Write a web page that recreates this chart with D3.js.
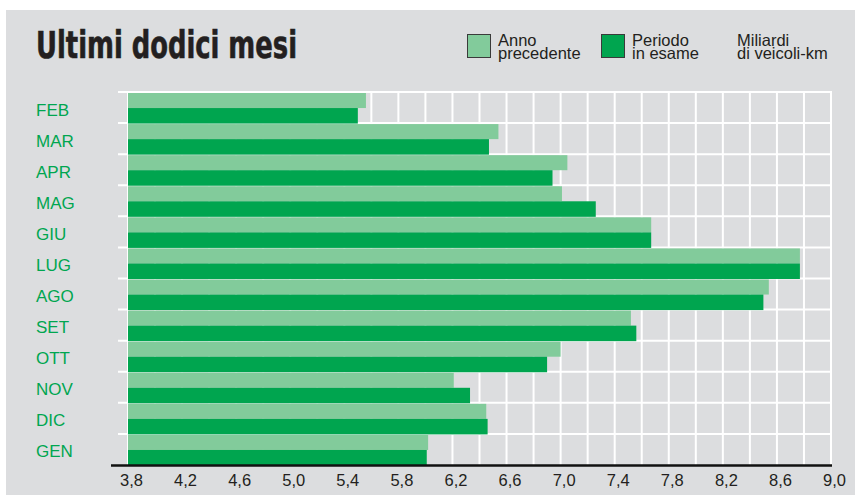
<!DOCTYPE html>
<html>
<head>
<meta charset="utf-8">
<script src="https://cdn.jsdelivr.net/npm/d3@7"></script>
<style>
  body { margin: 0; background: #fff; }
  svg { display: block; font-family: "Liberation Sans", Arial, sans-serif; }
</style>
</head>
<body>
<svg id="chart" width="855" height="497"></svg>
<script>
// months, top to bottom
const months = ['FEB', 'MAR', 'APR', 'MAG', 'GIU', 'LUG', 'AGO', 'SET', 'OTT', 'NOV', 'DIC', 'GEN'];
// miliardi di veicoli-km
const annoPrecedente = [5.56, 6.54, 7.05, 7.01, 7.67, 8.77, 8.54, 7.52, 7.00, 6.21, 6.45, 6.02];
const periodoInEsame = [5.50, 6.47, 6.94, 7.26, 7.67, 8.77, 8.50, 7.56, 6.90, 6.33, 6.46, 6.01];
const tickValues = [3.8, 4.2, 4.6, 5.0, 5.4, 5.8, 6.2, 6.6, 7.0, 7.4, 7.8, 8.2, 8.6, 9.0];
const gridValues = d3.range(0, 27).map(i => +(3.8 + i * 0.2).toFixed(1));

const lightGreen = '#82cb9b';
const darkGreen = '#00a54f';
const labelGreen = '#00a650';

const svg = d3.select('#chart');

// gray panel
svg.append('rect')
    .attr('x', 6).attr('y', 10)
    .attr('width', 849).attr('height', 485)
    .attr('fill', '#dcdddf');

const x = d3.scaleLinear().domain([3.8, 9.0]).range([128, 831]);
const y = d3.scaleBand().domain(months).range([92, 465]);

// grid (white)
const grid = svg.append('g').attr('stroke', '#fff').attr('stroke-width', 2);
grid.selectAll('line.v')
    .data(gridValues)
    .join('line')
    .attr('class', 'v')
    .attr('x1', d => x(d)).attr('x2', d => x(d))
    .attr('y1', 91).attr('y2', 465);
grid.selectAll('line.h')
    .data(months)
    .join('line')
    .attr('class', 'h')
    .attr('x1', 118).attr('x2', x(9.0) + 1)
    .attr('y1', d => y(d)).attr('y2', d => y(d));

// bars
const half = y.bandwidth() / 2;
const rows = svg.append('g').selectAll('g')
    .data(months)
    .join('g')
    .attr('transform', d => `translate(0,${y(d)})`);

rows.append('rect')
    .attr('x', x(3.8))
    .attr('y', 1)
    .attr('width', (d, i) => x(annoPrecedente[i]) - x(3.8))
    .attr('height', half - 0.5)
    .attr('fill', lightGreen);

rows.append('rect')
    .attr('x', x(3.8))
    .attr('y', half + 0.5)
    .attr('width', (d, i) => x(periodoInEsame[i]) - x(3.8))
    .attr('height', half)
    .attr('fill', darkGreen);

// month labels
svg.append('g').selectAll('text')
    .data(months)
    .join('text')
    .attr('x', 36)
    .attr('y', d => y(d) + y.bandwidth() / 2 + 8)
    .attr('fill', labelGreen)
    .attr('font-size', '17px')
    .text(d => d);

// x axis
const axis = svg.append('g')
    .attr('transform', 'translate(0,466)')
    .call(d3.axisBottom(x)
        .tickValues(tickValues)
        .tickSize(0)
        .tickPadding(8)
        .tickFormat(d => d3.format('.1f')(d).replace('.', ',')));
axis.select('.domain').remove();
axis.selectAll('text')
    .attr('font-family', '"Liberation Sans", Arial, sans-serif')
    .attr('font-size', '16.5px')
    .attr('fill', '#231f20')
    .attr('dx', 3);

svg.append('line')
    .attr('x1', 111).attr('x2', x(9.0) + 1)
    .attr('y1', 465.5).attr('y2', 465.5)
    .attr('stroke', '#111').attr('stroke-width', 2.5);

// title
svg.append('text')
    .attr('x', 36).attr('y', 58)
    .attr('font-family', '"Liberation Sans Narrow", "DejaVu Sans Condensed", "Liberation Sans", sans-serif')
    .attr('font-weight', 'bold')
    .attr('font-size', '37px')
    .attr('fill', '#231f20')
    .attr('stroke', '#231f20')
    .attr('stroke-width', 0.6)
    .attr('textLength', 261)
    .attr('lengthAdjust', 'spacingAndGlyphs')
    .text('Ultimi dodici mesi');

// legend
const legend = [
    { x: 467, color: lightGreen, lines: ['Anno', 'precedente'] },
    { x: 601, color: darkGreen, lines: ['Periodo', 'in esame'] }
];
const lg = svg.append('g').selectAll('g')
    .data(legend)
    .join('g');
lg.append('rect')
    .attr('x', d => d.x + 0.5).attr('y', 34.5)
    .attr('width', 23).attr('height', 23)
    .attr('fill', d => d.color)
    .attr('stroke', '#3a3a3a').attr('stroke-width', 1);
lg.append('text')
    .attr('font-size', '16.5px')
    .attr('fill', '#231f20')
    .selectAll('tspan')
    .data(d => d.lines.map((l, i) => ({ l, i, x: d.x + 31 })))
    .join('tspan')
    .attr('x', d => d.x)
    .attr('y', d => 45.5 + d.i * 13.5)
    .text(d => d.l);

svg.append('text')
    .attr('font-size', '16.5px')
    .attr('fill', '#231f20')
    .selectAll('tspan')
    .data(['Miliardi', 'di veicoli-km'])
    .join('tspan')
    .attr('x', 737)
    .attr('y', (d, i) => 45.5 + i * 13.5)
    .text(d => d);
</script>
</body>
</html>
